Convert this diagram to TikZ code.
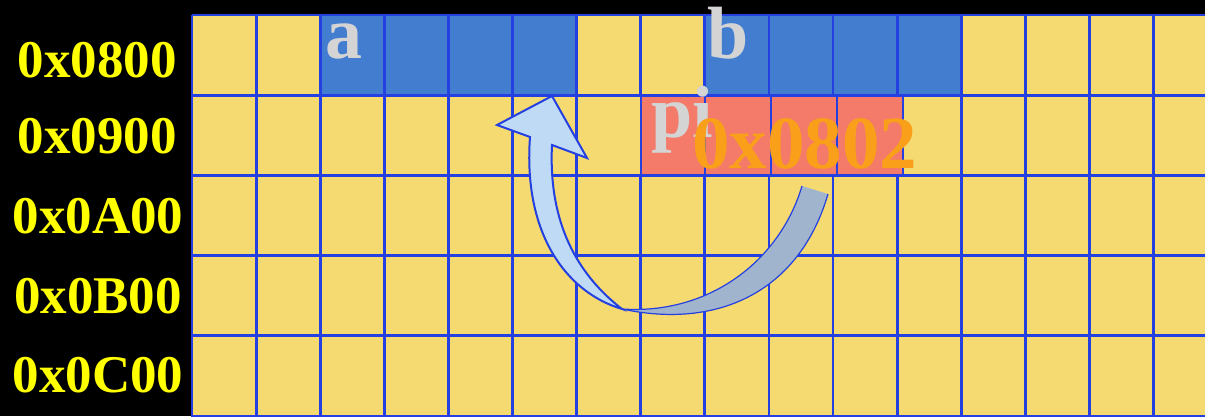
\documentclass[tikz,border=0pt]{standalone}
\usepackage{fontspec}
\setmainfont{Liberation Serif}
\definecolor{cellyellow}{HTML}{F5D971}
\definecolor{cellblue}{HTML}{427DD0}
\definecolor{cellpink}{HTML}{F47A6A}
\definecolor{gridblue}{HTML}{2540E0}
\definecolor{hexyellow}{HTML}{FFFF00}
\definecolor{labgrey}{HTML}{D4D4D4}
\definecolor{addrorange}{HTML}{FA9F1A}
\definecolor{arrowlight}{HTML}{BFDAF4}
\definecolor{arrowgrey}{HTML}{A0B5CD}
\tikzset{
  hexlabel/.style={text=hexyellow, font=\fontsize{53}{53}\selectfont\bfseries, inner sep=0pt, anchor=base},
  varlabel/.style={text=labgrey, font=\fontsize{74}{74}\selectfont\bfseries, inner sep=0pt, anchor=base west},
  addrlabel/.style={text=addrorange, font=\fontsize{75}{75}\selectfont\bfseries, inner sep=0pt, anchor=base west},
  gridline/.style={draw=gridblue, line width=2.8pt},
}
\begin{document}
\begin{tikzpicture}[x=1pt,y=-1pt]
\useasboundingbox (0,0) rectangle (1205,416);
\clip (0,0) rectangle (1205,416);
\fill[black] (0,0) rectangle (1205,416);
% cells
\fill[cellyellow] (192,15) rectangle (1210,420);
\fill[cellblue] (320.2,15) rectangle (576.6,95.2);
\fill[cellblue] (705,15) rectangle (961.5,95.2);
\fill[cellpink] (641,95.2) rectangle (903,175.4);
% horizontal grid lines
\foreach \j in {0,...,5}
  \draw[gridline] (192,{15+80.2*\j}) -- (1210,{15+80.2*\j});
% vertical grid lines, regular rows
\foreach \i in {0,...,16}{
  \draw[gridline] ({192+64.1*\i},15) -- ({192+64.1*\i},95.2);
  \draw[gridline] ({192+64.1*\i},175.4) -- ({192+64.1*\i},420);
}
% vertical grid lines, second row
\foreach \x in {192,256.1,320.2,384.3,448.4,512.5,576.6,641,705,771,837,903,961.5,1025.6,1089.7,1153.8}
  \draw[gridline] (\x,95.2) -- (\x,175.4);
% row addresses
\node[hexlabel] (r0) at (97,77) {0x0800};
\node[hexlabel] (r1) at (97,153) {0x0900};
\node[hexlabel] (r2) at (98,233) {0x0A00};
\node[hexlabel] (r3) at (98,313) {0x0B00};
\node[hexlabel] (r4) at (98,392) {0x0C00};
% variable labels
\node[varlabel] (a) at (325,58) {a};
\node[varlabel] (b) at (707,58) {b};
\node[varlabel] (pi) at (651,137) {pi};
\node[addrlabel] (addr) at (692,168) {0x0802};
% curved arrow (ribbon): tail part
\fill[arrowgrey] (802,186) -- (828,194) .. controls (800,290) and (720,330) .. (622,309)
   .. controls (710,315) and (780,260) .. (802,186) -- cycle;
\draw[gridblue, line width=1.2pt] (828,194) .. controls (800,290) and (720,330) .. (622,309);
\draw[gridblue, line width=1.2pt] (622,309) .. controls (710,315) and (780,260) .. (802,186);
% head part
\filldraw[fill=arrowlight, draw=gridblue, line width=2pt, line join=miter]
  (552,96) -- (587,158) -- (552,145) .. controls (549,205) and (565,265) .. (622,309)
  .. controls (565,292) and (523,232) .. (530,137) -- (497,125) -- cycle;
\end{tikzpicture}
\end{document}
